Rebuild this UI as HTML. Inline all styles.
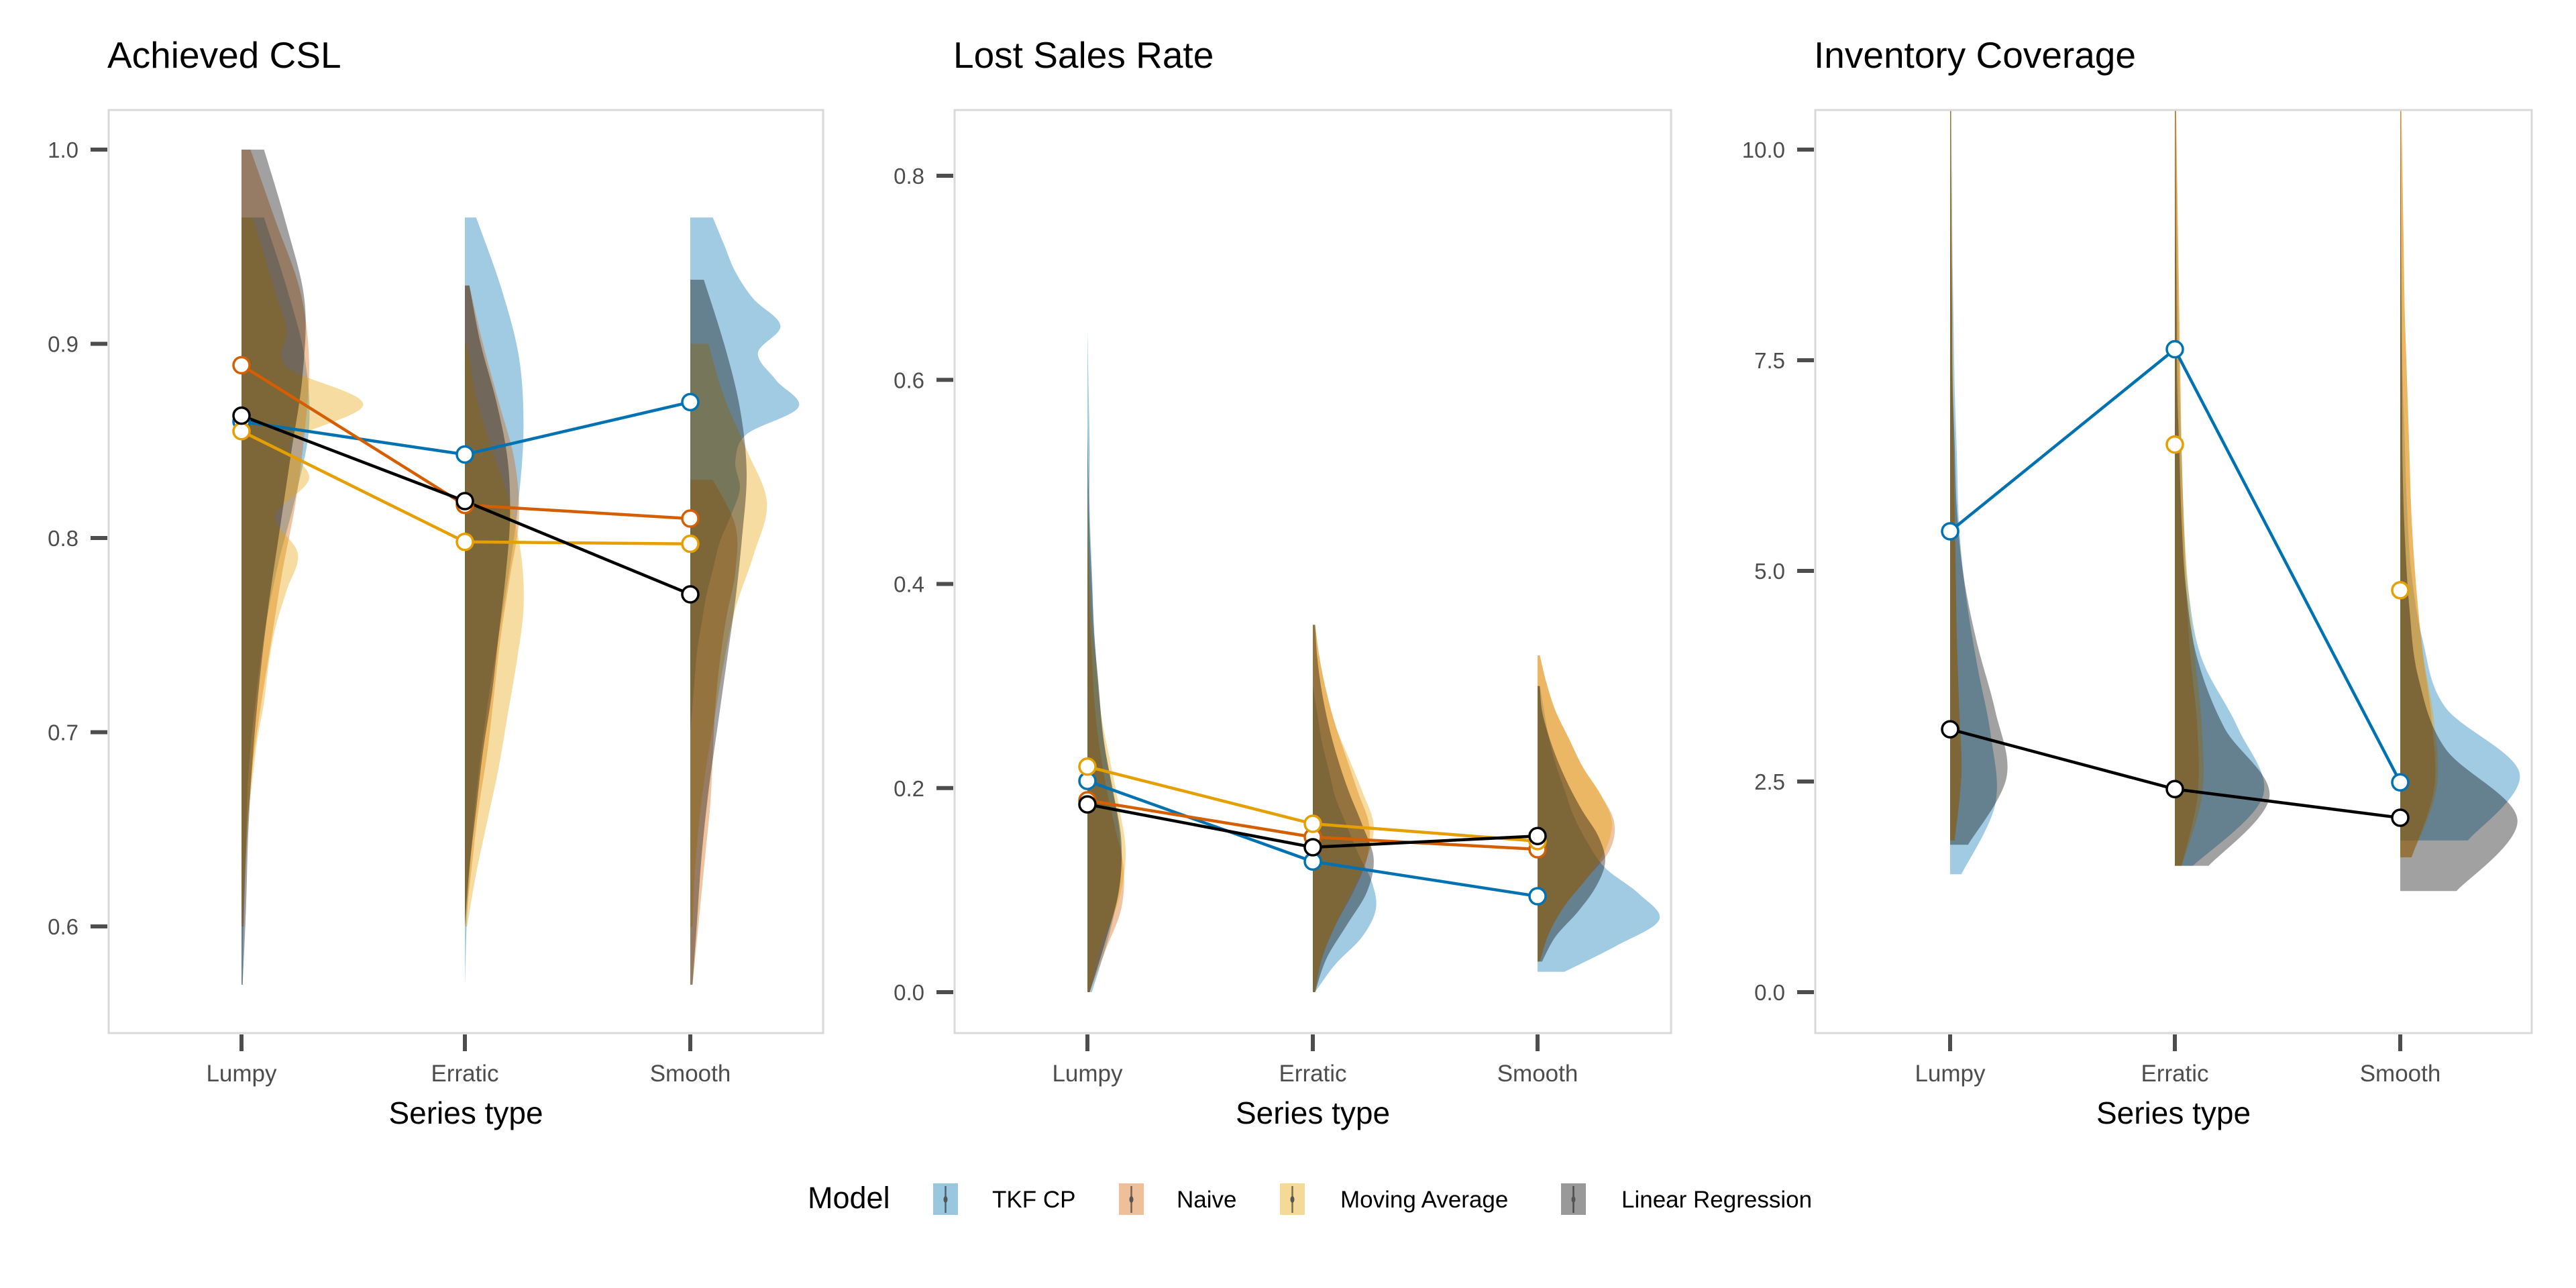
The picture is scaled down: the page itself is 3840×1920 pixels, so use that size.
<!DOCTYPE html>
<html><head><meta charset="utf-8"><style>
html,body{margin:0;padding:0;background:#fff;}
svg{display:block;font-family:"Liberation Sans",sans-serif;}
</style></head><body>
<svg id="chart" width="3840" height="1920" viewBox="0 0 3840 1920" xmlns="http://www.w3.org/2000/svg"></svg>
<script>
// ---------- data ----------
const categories = ["Lumpy","Erratic","Smooth"];
const models = ["TKF CP","Naive","Moving Average","Linear Regression"];
const panelTitles = ["Achieved CSL","Lost Sales Rate","Inventory Coverage"];
const cslTicks = [0.6,0.7,0.8,0.9,1.0];
const cslTickLabels = ["0.6","0.7","0.8","0.9","1.0"];
const lsrTicks = [0,0.2,0.4,0.6,0.8];
const lsrTickLabels = ["0.0","0.2","0.4","0.6","0.8"];
const covTicks = [0,2.5,5,7.5,10];
const covTickLabels = ["0.0","2.5","5.0","7.5","10.0"];
// means: [Lumpy, Erratic, Smooth] per model
const cslTKF = [0.860,0.843,0.870];
const cslNaive = [0.889,0.817,0.810];
const cslMA = [0.855,0.798,0.797];
const cslLR = [0.863,0.819,0.771];
const lsrTKF = [0.207,0.128,0.094];
const lsrNaive = [0.188,0.152,0.140];
const lsrMA = [0.221,0.165,0.148];
const lsrLR = [0.184,0.142,0.153];
const covTKF = [5.47,7.63,2.49];
const covNaive = [null,null,null];
const covMA = [null,6.50,4.77];
const covLR = [3.12,2.41,2.07];
// densities: lo, hi, widths (fraction of category spacing) sampled evenly lo..hi
const cslDens = [
 [
  {lo:0.57,hi:0.965,w:[0.005,0.01,0.02,0.03,0.06,0.1,0.16,0.24,0.3,0.28,0.2,0.1]},
  {lo:0.60,hi:1.0,w:[0.01,0.02,0.04,0.08,0.13,0.18,0.24,0.28,0.3,0.26,0.15,0.04]},
  {lo:0.60,hi:0.965,w:[0,0.01,0.02,0.03,0.05,0.07,0.1,0.12,0.15,0.2,0.25,0.15,0.3,0.22,0.54,0.2,0.2,0.15,0.1,0.05]},
  {lo:0.57,hi:1.0,w:[0.005,0.02,0.03,0.05,0.08,0.12,0.17,0.22,0.27,0.28,0.2,0.1]}
 ],
 [
  {lo:0.57,hi:0.965,w:[0,0.01,0.03,0.06,0.1,0.15,0.2,0.24,0.26,0.24,0.16,0.05]},
  {lo:0.60,hi:0.93,w:[0,0.03,0.06,0.1,0.13,0.16,0.2,0.24,0.22,0.15,0.08,0.02]},
  {lo:0.60,hi:0.90,w:[0.01,0.05,0.1,0.15,0.19,0.23,0.26,0.25,0.2,0.12,0.05,0.01]},
  {lo:0.60,hi:0.93,w:[0,0.02,0.05,0.08,0.12,0.15,0.18,0.2,0.19,0.14,0.07,0.02]}
 ],
 [
  {lo:0.70,hi:0.965,w:[0,0.01,0.02,0.03,0.05,0.07,0.1,0.13,0.18,0.22,0.2,0.25,0.48,0.38,0.3,0.4,0.28,0.2,0.15,0.1]},
  {lo:0.57,hi:0.83,w:[0.01,0.03,0.05,0.07,0.09,0.1,0.11,0.13,0.16,0.2,0.2,0.1]},
  {lo:0.60,hi:0.90,w:[0.01,0.02,0.04,0.07,0.11,0.15,0.2,0.28,0.34,0.25,0.15,0.08]},
  {lo:0.57,hi:0.933,w:[0.01,0.03,0.05,0.08,0.12,0.16,0.2,0.23,0.25,0.22,0.15,0.06]}
 ]
];
const lsrDens = [
 [
  {lo:0,hi:0.65,w:[0.02,0.1,0.15,0.13,0.08,0.05,0.03,0.02,0.01,0.01,0.005,0]},
  {lo:0,hi:0.45,w:[0.01,0.08,0.15,0.16,0.12,0.08,0.05,0.03,0.02,0.01,0.005,0]},
  {lo:0,hi:0.50,w:[0.01,0.06,0.14,0.17,0.14,0.1,0.06,0.04,0.02,0.01,0.005,0]},
  {lo:0,hi:0.55,w:[0.01,0.08,0.14,0.15,0.11,0.07,0.05,0.03,0.02,0.01,0.005,0]}
 ],
 [
  {lo:0,hi:0.30,w:[0.01,0.1,0.22,0.28,0.26,0.2,0.15,0.1,0.07,0.04,0.02,0]},
  {lo:0,hi:0.36,w:[0.01,0.04,0.1,0.18,0.24,0.25,0.2,0.15,0.1,0.06,0.03,0.01]},
  {lo:0,hi:0.36,w:[0.01,0.04,0.1,0.17,0.24,0.27,0.22,0.16,0.1,0.06,0.03,0.01]},
  {lo:0,hi:0.36,w:[0.01,0.06,0.15,0.24,0.27,0.22,0.16,0.11,0.07,0.04,0.02,0.01]}
 ],
 [
  {lo:0.02,hi:0.30,w:[0.12,0.35,0.54,0.45,0.3,0.22,0.16,0.12,0.08,0.05,0.03,0.01]},
  {lo:0.03,hi:0.33,w:[0.01,0.05,0.12,0.22,0.32,0.34,0.28,0.2,0.14,0.08,0.04,0.01]},
  {lo:0.03,hi:0.33,w:[0.01,0.05,0.12,0.22,0.3,0.33,0.28,0.2,0.14,0.08,0.04,0.01]},
  {lo:0.03,hi:0.30,w:[0.02,0.08,0.18,0.26,0.3,0.27,0.2,0.14,0.09,0.05,0.02,0.01]}
 ]
];
const covDens = [
 [
  {lo:1.4,hi:10.5,w:[0.05,0.2,0.18,0.12,0.07,0.04,0.03,0.02,0.015,0.01,0.008,0.005]},
  {lo:1.8,hi:10.5,w:[0.02,0.05,0.04,0.03,0.025,0.02,0.015,0.012,0.01,0.008,0.006,0.005]},
  {lo:1.8,hi:10.5,w:[0.02,0.05,0.04,0.03,0.025,0.02,0.015,0.012,0.01,0.008,0.006,0.005]},
  {lo:1.75,hi:10.5,w:[0.08,0.25,0.2,0.12,0.06,0.03,0.02,0.01,0.008,0.005,0.003,0.002]}
 ],
 [
  {lo:1.5,hi:10.5,w:[0.08,0.39,0.28,0.12,0.06,0.04,0.03,0.02,0.015,0.01,0.008,0.005]},
  {lo:1.5,hi:10.5,w:[0.03,0.1,0.1,0.07,0.05,0.04,0.03,0.025,0.02,0.015,0.01,0.006]},
  {lo:1.5,hi:10.5,w:[0.03,0.12,0.12,0.09,0.06,0.04,0.03,0.025,0.02,0.015,0.01,0.006]},
  {lo:1.5,hi:10.5,w:[0.15,0.42,0.22,0.1,0.05,0.03,0.02,0.01,0.008,0.005,0.003,0.002]}
 ],
 [
  {lo:1.8,hi:10.5,w:[0.3,0.53,0.2,0.1,0.05,0.03,0.02,0.01,0.008,0.005,0.003,0.002]},
  {lo:1.6,hi:10.5,w:[0.05,0.15,0.14,0.1,0.07,0.05,0.04,0.03,0.02,0.015,0.01,0.005]},
  {lo:1.6,hi:10.5,w:[0.05,0.16,0.15,0.1,0.07,0.05,0.04,0.03,0.02,0.015,0.01,0.005]},
  {lo:1.2,hi:10.5,w:[0.25,0.52,0.2,0.08,0.04,0.02,0.01,0.008,0.005,0.003,0.002,0.001]}
 ]
];
// ---------- drawing ----------
(function(){
const colors = ["#0072B2","#D55E00","#E69F00","#000000"];
const NS = "http://www.w3.org/2000/svg";
const svg = document.getElementById("chart");
function mk(tag, attrs, parent){const e=document.createElementNS(NS,tag);for(const k in attrs)e.setAttribute(k,attrs[k]);(parent||svg).appendChild(e);return e;}
function smooth(pts){
 let d="M"+pts[0][0].toFixed(1)+","+pts[0][1].toFixed(1);
 for(let i=0;i<pts.length-1;i++){
  const p0=pts[Math.max(0,i-1)],p1=pts[i],p2=pts[i+1],p3=pts[Math.min(pts.length-1,i+2)];
  const c1=[p1[0]+(p2[0]-p0[0])/6,p1[1]+(p2[1]-p0[1])/6];
  const c2=[p2[0]-(p3[0]-p1[0])/6,p2[1]-(p3[1]-p1[1])/6];
  d+="C"+c1[0].toFixed(1)+","+c1[1].toFixed(1)+" "+c2[0].toFixed(1)+","+c2[1].toFixed(1)+" "+p2[0].toFixed(1)+","+p2[1].toFixed(1);
 }
 return d;
}
const panels = [
 {x0:162,x1:1227,cx:[360,693,1029],ymin:0.6,ymax:1.0,pyMin:1381,pyMax:223,ticks:cslTicks,labels:cslTickLabels,means:[cslTKF,cslNaive,cslMA,cslLR],dens:cslDens,lines:[true,true,true,true]},
 {x0:1423,x1:2491,cx:[1621,1957,2292],ymin:0,ymax:0.8,pyMin:1479,pyMax:262,ticks:lsrTicks,labels:lsrTickLabels,means:[lsrTKF,lsrNaive,lsrMA,lsrLR],dens:lsrDens,lines:[true,true,true,true]},
 {x0:2706,x1:3774,cx:[2907,3242,3578],ymin:0,ymax:10,pyMin:1479,pyMax:223,ticks:covTicks,labels:covTickLabels,means:[covTKF,covNaive,covMA,covLR],dens:covDens,lines:[true,false,false,true]}
];
const plotTop=164,plotBot=1540,spacing=336;
panels.forEach((p,pi)=>{
 const g=mk("g",{});
 
 
 const yS=v=>p.pyMin+(v-p.ymin)/(p.ymax-p.ymin)*(p.pyMax-p.pyMin);
 const t=mk("text",{x:p.x0-2,y:101,"font-size":55,fill:"#000"},g);t.textContent=panelTitles[pi];
 
 
 const clipId="clip"+pi;
 const cp=mk("clipPath",{id:clipId},g);mk("rect",{x:p.x0,y:plotTop,width:p.x1-p.x0,height:plotBot-plotTop},cp);
 const dg=mk("g",{"clip-path":"url(#"+clipId+")"},g);
 p.dens.forEach((cat,ci)=>{cat.forEach((d,mi)=>{
  const n=d.w.length;let pts=[];
  for(let i=0;i<n;i++){const v=d.lo+(d.hi-d.lo)*i/(n-1);pts.push([p.cx[ci]+d.w[i]*spacing,yS(v)]);}
  const path=mk("path",{d:"M"+p.cx[ci]+","+yS(d.lo).toFixed(1)+"L"+smooth(pts).slice(1)+"L"+p.cx[ci]+","+yS(d.hi).toFixed(1)+"Z",fill:colors[mi],"fill-opacity":0.37},dg);
  
  
 });});
 p.means.forEach((arr,mi)=>{
  if(p.lines[mi]){const pts=arr.map((v,ci)=>v==null?null:[p.cx[ci],yS(v)]).filter(q=>q);
   const l=mk("polyline",{points:pts.map(q=>q.join(",")).join(" "),fill:"none",stroke:colors[mi],"stroke-width":4.5},dg);
   
   }
 });
 p.means.forEach((arr,mi)=>{arr.forEach((v,ci)=>{if(v==null)return;
  const c=mk("circle",{cx:p.cx[ci],cy:yS(v),r:12,fill:"#fff",stroke:colors[mi],"stroke-width":3.5},dg);
  
  
 });});
 const fr=mk("rect",{x:p.x0,y:plotTop,width:p.x1-p.x0,height:plotBot-plotTop,fill:"none",stroke:"#d9d9d9","stroke-width":3},g);
 
 
 p.ticks.forEach((v,i)=>{
  mk("line",{x1:p.x0-27,x2:p.x0-2,y1:yS(v),y2:yS(v),stroke:"#4d4d4d","stroke-width":6},g);
  const tl=mk("text",{x:p.x0-45,y:yS(v)+12,"font-size":33,fill:"#4d4d4d","text-anchor":"end"},g);tl.textContent=p.labels[i];
  
  
 });
 categories.forEach((c,ci)=>{
  mk("line",{x1:p.cx[ci],x2:p.cx[ci],y1:plotBot+2,y2:plotBot+27,stroke:"#4d4d4d","stroke-width":6},g);
  const xl=mk("text",{x:p.cx[ci],y:1612,"font-size":35,fill:"#4d4d4d","text-anchor":"middle"},g);xl.textContent=c;
  
  
 });
 const xt=mk("text",{x:(p.x0+p.x1)/2,y:1675,"font-size":46,fill:"#000","text-anchor":"middle"},g);xt.textContent="Series type";
 
 
});
const lg=mk("g",{});


const lt=mk("text",{x:1204,y:1801,"font-size":45,fill:"#000"},lg);lt.textContent="Model";


const keyX=[1391,1668,1908,2327],labX=[1479,1754,1998,2417];
models.forEach((m,mi)=>{
 const e=mk("g",{},lg);
 
 
 mk("rect",{x:keyX[mi],y:1764,width:37,height:47,fill:colors[mi],"fill-opacity":0.4},e);
 mk("line",{x1:keyX[mi]+18.5,x2:keyX[mi]+18.5,y1:1768,y2:1808,stroke:"#000","stroke-opacity":0.5,"stroke-width":2.5},e);
 mk("ellipse",{cx:keyX[mi]+18.5,cy:1788,rx:3,ry:5,fill:"#555"},e);
 const tx=mk("text",{x:labX[mi],y:1800,"font-size":35,fill:"#000"},e);tx.textContent=m;
});
})();
</script>
</body></html>
